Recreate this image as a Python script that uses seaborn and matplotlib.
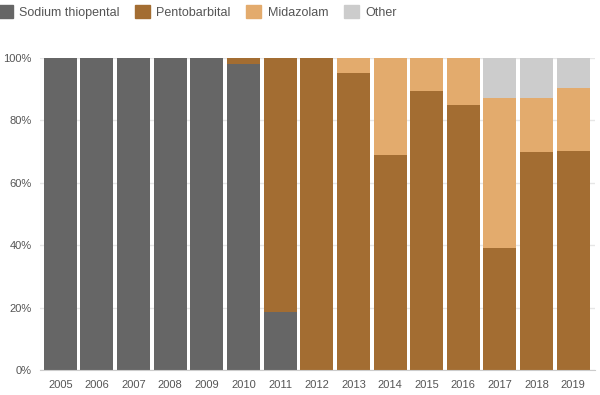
import matplotlib
matplotlib.use("Agg")
import matplotlib.pyplot as plt
import matplotlib.patches as mpatches
from matplotlib.ticker import PercentFormatter, FixedLocator
import seaborn as sns
import numpy as np

years = [str(y) for y in range(2005, 2020)]
sodium = [100, 100, 100, 100, 100, 98, 18.6, 0, 0, 0, 0, 0, 0, 0, 0]
pento = [0, 0, 0, 0, 0, 2, 81.4, 100, 95, 68.8, 89.3, 85, 39, 69.8, 70.1]
midaz = [0, 0, 0, 0, 0, 0, 0, 0, 5, 31.2, 10.7, 15, 48, 17.2, 20.1]
other = [0, 0, 0, 0, 0, 0, 0, 0, 0, 0, 0, 0, 13, 13, 9.8]

names = ["Sodium thiopental", "Pentobarbital", "Midazolam", "Other"]
colors = ["#666666", "#a36d32", "#e3ab6d", "#cccccc"]

sns.set_style("white")
plt.rcParams["font.family"] = ["Liberation Sans", "DejaVu Sans"]

fig = plt.figure(figsize=(6, 3.95), dpi=100)
ax = fig.add_axes([0.067, 0.063, 0.925, 0.791])

# stacked by overlaying cumulative totals, tallest first
stack = np.cumsum(np.array([sodium, pento, midaz, other]), axis=0)
for i in range(3, -1, -1):
    sns.barplot(x=years, y=stack[i], color=colors[i], width=0.9,
                saturation=1, linewidth=0, edgecolor="none", ax=ax, zorder=2)

ax.set_ylim(0, 100)
ax.set_xlim(-0.55, 14.6)
ax.yaxis.set_major_locator(FixedLocator([0, 20, 40, 60, 80, 100]))
ax.yaxis.set_major_formatter(PercentFormatter(decimals=0))
ax.grid(axis="y", color="#e6e6e6", lw=1, zorder=0)
ax.set_axisbelow(True)
for s in ["top", "right", "left"]:
    ax.spines[s].set_visible(False)
ax.spines["bottom"].set_color("#cccccc")
ax.tick_params(axis="y", length=0, labelsize=8, labelcolor="#555555", pad=6)
ax.tick_params(axis="x", length=5, color="#cccccc", labelsize=8,
               labelcolor="#555555", pad=2)
ax.set_xticks([-0.55, 14.6], minor=True)
ax.tick_params(axis="x", which="minor", length=5, color="#cccccc")
ax.set_xlabel("")
ax.set_ylabel("")

handles = [mpatches.Patch(color=c, label=n) for c, n in zip(colors, names)]
fig.legend(handles=handles, loc="upper left", bbox_to_anchor=(-0.012, 1.0),
           ncol=4, frameon=False, fontsize=9, handlelength=1.2,
           handleheight=1.2, handletextpad=0.5, columnspacing=1.25,
           labelcolor="#555555", borderaxespad=0)

fig.savefig("out.png", dpi=100)
